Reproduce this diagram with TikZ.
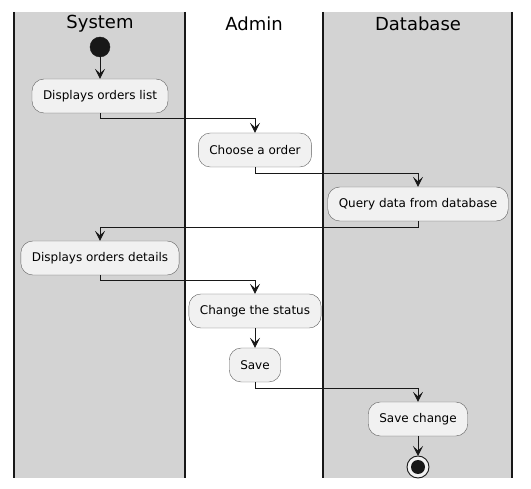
\documentclass[tikz,border=0pt]{standalone}
\usepackage{fontspec}
\setmainfont{DejaVu Sans}
\usetikzlibrary{arrows.meta}

\definecolor{lanegray}{HTML}{D3D3D3}
\definecolor{boxfill}{HTML}{F1F1F1}
\definecolor{boxline}{HTML}{5F5F5F}
\definecolor{ink}{HTML}{181818}

\tikzset{
  act/.style={draw=boxline, fill=boxfill, rounded corners=12pt, minimum height=34pt,
              inner xsep=11pt, font=\fontsize{12}{14}\selectfont},
  lanetitle/.style={font=\fontsize{18}{22}\selectfont},
  flow/.style={draw=ink, line width=0.9pt, -{Stealth[length=10pt,width=10pt,inset=4.5pt]}},
  lanesep/.style={draw=ink, line width=1.4pt}
}

\begin{document}
\begin{tikzpicture}[x=1pt,y=-1pt]
     \useasboundingbox (0,0) rectangle (531,489);
     % swimlanes
     \fill[lanegray] (14,12) rectangle (185,478);
     \fill[lanegray] (323,12) rectangle (512,478);
     \foreach \xl in {14,185,323,512}
        \draw[lanesep] (\xl,12) -- (\xl,478);
     \node[lanetitle] (tsys) at (100,24) {System};
     \node[lanetitle] (tadm) at (254,24) {Admin};
     \node[lanetitle] (tdb) at (418,24) {Database};

     % activities
     \filldraw[ink] (100,47) circle (10) coordinate (start);
     \node[act] (list) at (100,96) {Displays orders list};
     \node[act] (choose) at (255,150) {Choose a order};
     \node[act] (query) at (418,204) {Query data from database};
     \node[act] (details) at (100,258) {Displays orders details};
     \node[act] (status) at (255,311) {Change the status};
     \node[act] (save) at (255,365) {Save};
     \node[act] (savech) at (418,419) {Save change};
     \draw[ink, fill=boxfill, line width=0.9pt] (418,467) circle (11);
     \fill[ink] (418,467) circle (7);
     \coordinate (stop) at (418,456);

     % flow
     \draw[flow] (100,57) -- (list.north);
     \draw[flow] (list.south) -- ++(0,5) -| (choose.north);
     \draw[flow] (choose.south) -- ++(0,6) -| (query.north);
     \draw[flow] (query.south) -- ++(0,6) -| (details.north);
     \draw[flow] (details.south) -- ++(0,5) -| (status.north);
     \draw[flow] (status.south) -- (save.north);
     \draw[flow] (save.south) -- ++(0,6) -| (savech.north);
     \draw[flow] (savech.south) -- (stop);
\end{tikzpicture}
\end{document}
